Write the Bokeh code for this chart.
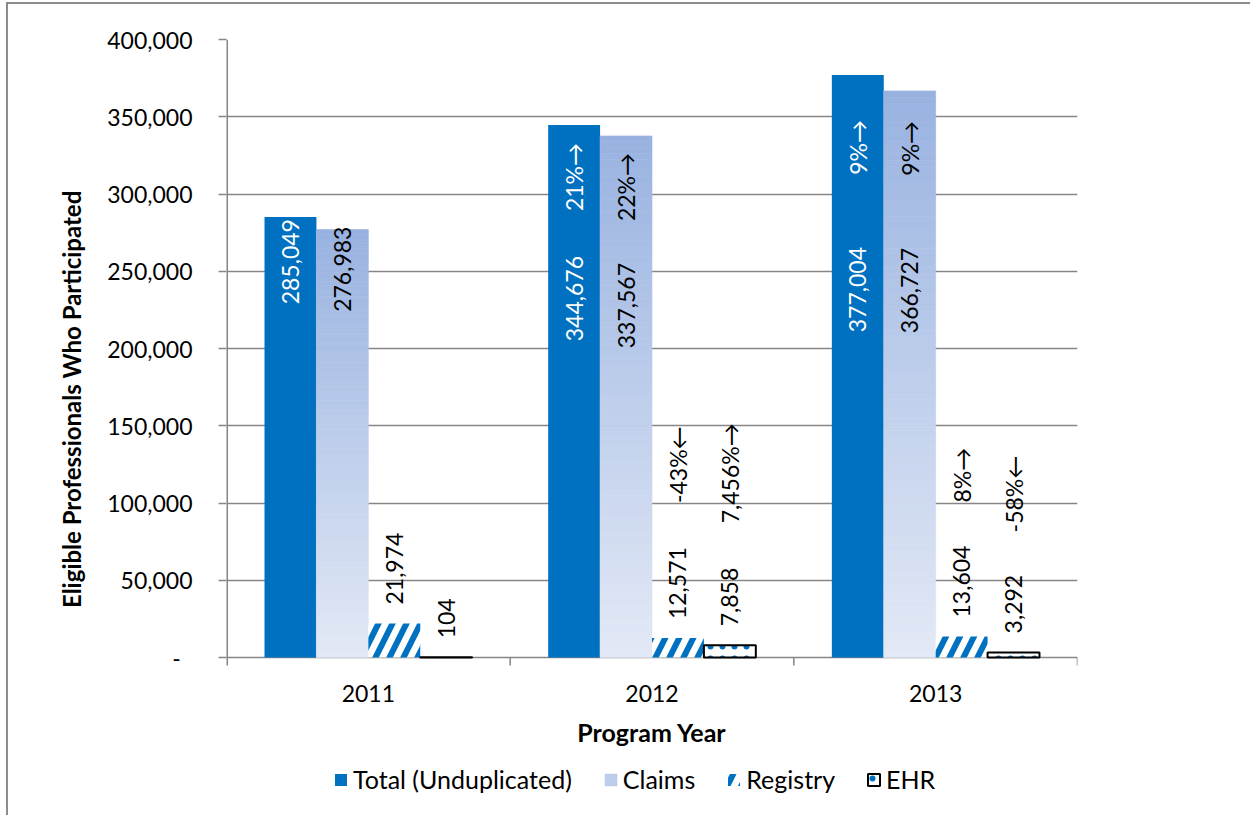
import numpy as np
from bokeh.plotting import figure
from bokeh.models import (Range1d, FixedTicker, CustomJSTickFormatter, Legend, LegendItem)
from bokeh.core.properties import value
from bokeh.embed import file_html
from bokeh.resources import INLINE

# ---------------- data ----------------
years = ["2011", "2012", "2013"]
series_names = ["Total (Unduplicated)", "Claims", "Registry", "EHR"]
total = [285049, 344676, 377004]
claims = [276983, 337567, 366727]
registry = [21974, 12571, 13604]
ehr = [104, 7858, 3292]
pct_total = ["", "21%\u2192", "9%\u2192"]
pct_claims = ["", "22%\u2192", "9%\u2192"]
pct_registry = ["", "-43%\u2190", "8%\u2192"]
pct_ehr = ["", "7,456%\u2192", "-58%\u2190"]
y_ticks = [0, 50000, 100000, 150000, 200000, 250000, 300000, 350000, 400000]
y_title = "Eligible Professionals Who Participated"
x_title = "Program Year"

# ---------------- layout / style ----------------
FONT = "Lato"
W, H = 1244, 813
ML, MR, MT = 218, 175, 35
PLOT_H = 618                 # pixels from 0 to 400,000
BELOW_PX = H - MT - PLOT_H   # pixels below the zero line (x-axis area + legend)
YMAX = 400000
upx = YMAX / PLOT_H          # data units per pixel
YMIN = -BELOW_PX * upx

BLUE = "#0070C0"
GRID = "#868686"
CLAIM_TOP = np.array([0x98, 0xB2, 0xE0])
CLAIM_BOT = np.array([0xE3, 0xE9, 0xF6])

bw = 0.183
offs = [-1.5 * bw, -0.5 * bw, 0.5 * bw, 1.5 * bw]
xc = np.arange(len(years)) + 0.5
bounds = list(range(len(years) + 1))

# label offsets in px (from bar top)
val_in_off = {"total": [2, 131, 172], "claims": [-3, 127, 157]}
pct_in_off = {"total": [0, 18, 45], "claims": [0, 17, 30]}
val_out_off = 19
pct_out_off = {"registry": [0, 135, 134], "ehr": [0, 122, 120]}

p = figure(width=W, height=H, x_range=Range1d(0, len(years)), y_range=Range1d(YMIN, YMAX),
           output_backend="svg", toolbar_location=None, x_axis_location=None,
           min_border_left=ML, min_border_right=MR, min_border_top=MT, min_border_bottom=0)
p.outline_line_color = None
p.xgrid.visible = False
p.ygrid.grid_line_color = GRID
p.ygrid.grid_line_width = 1.5
p.ygrid.ticker = FixedTicker(ticks=y_ticks)

# category axis (drawn at the zero line): boundary ticks, value-axis line, labels, title
p.segment(x0=[0], x1=[0], y0=[-8 * upx], y1=[YMAX], line_color=GRID, line_width=3)
p.segment(x0=bounds[1:], x1=bounds[1:], y0=[0] * len(years), y1=[-8 * upx] * len(years),
          line_color=GRID, line_width=1.5)
p.text(x=list(xc), y=[-36 * upx] * len(years), text=years, text_align="center",
       text_baseline="middle", text_color="black", text_font=value(FONT), text_font_size="23px")
p.text(x=[len(years) / 2], y=[-74 * upx], text=[x_title], text_align="center",
       text_baseline="middle", text_color="black", text_font=value(FONT),
       text_font_style="bold", text_font_size="25px")

# bars
r_total = p.vbar(x=xc + offs[0], top=total, width=bw, fill_color=BLUE, line_color=None)

cl_l, cl_r, cl_b, cl_t, cl_c = [], [], [], [], []
N = 90
for i, v in enumerate(claims):
    for k in range(N):
        f = (k + 0.5) / N
        col = CLAIM_BOT + (CLAIM_TOP - CLAIM_BOT) * f
        cl_l.append(xc[i] + offs[1] - bw / 2)
        cl_r.append(xc[i] + offs[1] + bw / 2)
        cl_b.append(v * k / N)
        cl_t.append(v * (k + 1) / N)
        cl_c.append("#%02x%02x%02x" % tuple(int(round(c)) for c in col))
r_claims = p.quad(left=cl_l, right=cl_r, bottom=cl_b, top=cl_t, fill_color=cl_c,
                  line_color=cl_c, line_width=0.6)

r_reg = p.vbar(x=xc + offs[2], top=registry, width=bw, fill_color="white", line_color=None,
               hatch_pattern="/", hatch_color=BLUE, hatch_weight=6, hatch_scale=28)
r_ehr = p.vbar(x=xc + offs[3], top=ehr, width=bw, fill_color="white", line_color="black",
               line_width=2, hatch_pattern=".", hatch_color=BLUE, hatch_weight=1.5, hatch_scale=12)

# data labels
def fmt(v):
    return f"{v:,}"

def add_text(xs, ys, texts, align, color):
    p.text(x=list(xs), y=list(ys), text=list(texts), angle=np.pi / 2, text_align=align,
           text_baseline="middle", text_color=color, text_font=value(FONT), text_font_size="23px")

add_text(xc + offs[0], [v - o * upx for v, o in zip(total, val_in_off["total"])],
         [fmt(v) for v in total], "right", "white")
add_text(xc + offs[0], [v - o * upx for v, o in zip(total, pct_in_off["total"])],
         pct_total, "right", "white")
add_text(xc + offs[1], [v - o * upx for v, o in zip(claims, val_in_off["claims"])],
         [fmt(v) for v in claims], "right", "black")
add_text(xc + offs[1], [v - o * upx for v, o in zip(claims, pct_in_off["claims"])],
         pct_claims, "right", "black")
add_text(xc + offs[2], [v + val_out_off * upx for v in registry],
         [fmt(v) for v in registry], "left", "black")
add_text(xc + offs[2], [v + o * upx for v, o in zip(registry, pct_out_off["registry"])],
         pct_registry, "left", "black")
add_text(xc + offs[3], [v + val_out_off * upx for v in ehr],
         [fmt(v) for v in ehr], "left", "black")
add_text(xc + offs[3], [v + o * upx for v, o in zip(ehr, pct_out_off["ehr"])],
         pct_ehr, "left", "black")

# value axis
ya = p.yaxis[0]
ya.ticker = FixedTicker(ticks=y_ticks)
ya.formatter = CustomJSTickFormatter(code="return tick == 0 ? '-\\u00a0\\u00a0' : tick.toLocaleString('en-US');")
ya.axis_line_color = None
ya.major_tick_line_color = GRID
ya.major_tick_line_width = 1.5
ya.major_tick_out = 8
ya.major_tick_in = 0
ya.minor_tick_line_color = None
ya.major_label_standoff = 26
ya.major_label_text_font = FONT
ya.major_label_text_font_size = "23px"
ya.major_label_text_color = "black"
ya.axis_label = "\u00a0" * 10 + y_title   # leading spaces lift the title to the reference position
ya.axis_label_text_font = FONT
ya.axis_label_text_font_style = "bold"
ya.axis_label_text_font_size = "24px"
ya.axis_label_text_color = "black"
ya.axis_label_standoff = 18

legend = Legend(items=[LegendItem(label=series_names[0], renderers=[r_total]),
                       LegendItem(label=series_names[1], renderers=[r_claims], index=N // 2),
                       LegendItem(label=series_names[2], renderers=[r_reg]),
                       LegendItem(label=series_names[3], renderers=[r_ehr])],
                orientation="horizontal", location=(107, 23),
                glyph_width=15, glyph_height=15, label_standoff=5, spacing=31,
                label_text_font=FONT, label_text_font_size="25px", label_text_color="black",
                border_line_color=None, background_fill_alpha=0, padding=0, margin=0)
p.add_layout(legend, "center")

p.styles = {"margin-left": "6px", "margin-top": "2px",
            "border-left": "2px solid #8c8c8c", "border-top": "2px solid #8c8c8c"}

open("out.html", "w").write(file_html(p, INLINE))
